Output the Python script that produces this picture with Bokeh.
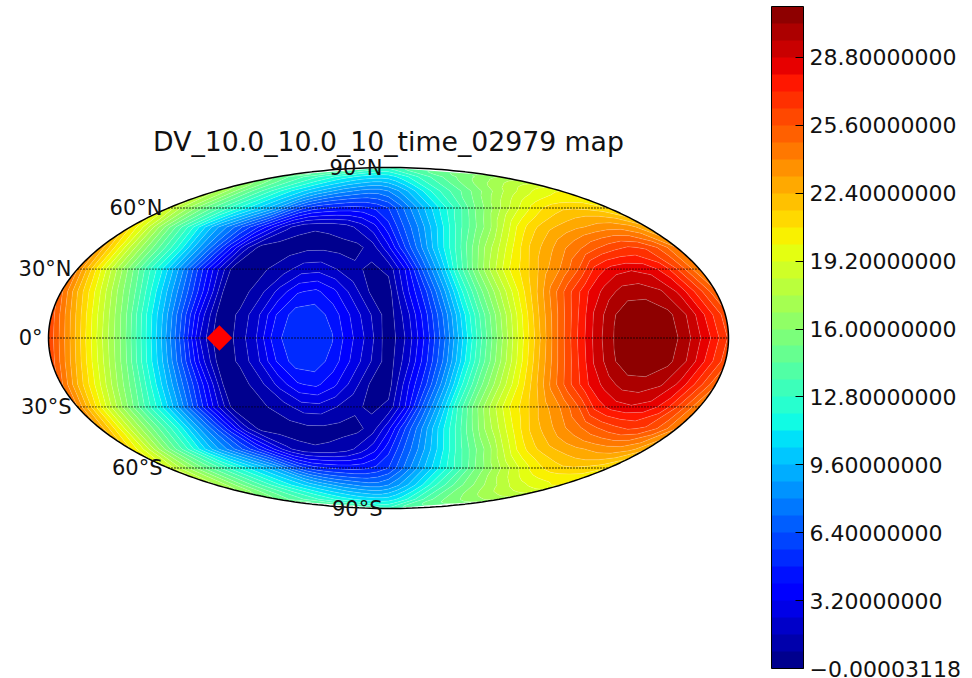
import numpy as np
from bokeh.plotting import figure
from bokeh.embed import file_html
from bokeh.resources import INLINE
from bokeh.core.properties import value
from bokeh.models import ColorBar, LinearColorMapper, FixedTicker

title_text = "DV_10.0_10.0_10_time_02979 map"
lons = list(range(-180, 181, 10))
lats = list(range(-90, 91, 10))
row_90n = [13.0]*37
row_80n = [15.0,14.7,14.3,14.0,13.7,13.3,13.0,12.7,12.4,12.1,11.8,11.5,11.3,11.1,10.9,10.8,10.7,10.7,10.8,11.1,11.5,11.9,12.4,12.9,13.3,13.7,14.1,14.5,14.9,15.2,15.5,15.8,16.0,16.3,16.5,16.7,16.8]
row_70n = [17.6,16.9,16.0,15.0,14.2,13.4,12.6,11.8,11.1,10.5,9.9,9.4,8.9,8.4,8.1,7.8,7.6,7.6,8.0,8.7,9.6,10.6,11.6,12.5,13.3,14.0,14.7,15.5,16.2,16.9,17.6,18.2,18.7,19.2,19.6,19.9,20.0]
row_60n = [19.0,17.6,16.3,15.0,13.9,12.7,11.7,10.7,9.7,8.6,7.0,5.8,5.1,4.8,4.6,4.5,4.6,5.0,5.6,6.9,8.3,9.7,11.0,12.3,13.6,15.1,16.2,17.4,18.5,19.5,20.4,21.0,21.4,21.5,21.4,21.2,20.8]
row_50n = [20.8,19.0,16.8,14.7,12.8,10.8,9.0,7.6,6.1,4.7,3.2,1.8,1.0,0.85,0.9,1.2,1.9,2.9,4.5,6.3,7.9,9.7,11.5,13.4,15.0,16.5,18.4,20.1,21.3,22.1,22.6,23.0,23.3,23.6,23.7,23.4,22.6]
row_40n = [22.9,20.5,18.0,15.8,13.7,11.6,9.2,7.0,4.5,2.0,0.5,0.4,0.5,0.6,0.6,0.5,0.5,1.2,3.0,5.5,7.8,10.2,12.4,14.7,16.8,18.6,20.4,21.9,22.9,23.9,24.7,25.5,26.1,26.5,26.3,25.4,24.0]
row_30n = [24.0,21.0,18.3,15.8,13.3,11.0,8.4,5.5,2.8,0.5,0.5,0.8,1.3,2.0,2.1,1.6,1.0,0.6,1.0,3.3,6.6,9.5,12.8,15.6,18.0,20.0,21.4,22.9,24.1,25.6,27.5,28.4,28.7,28.5,27.6,25.9,24.0]
row_20n = [25.0,22.1,19.6,17.0,14.6,11.8,9.1,6.3,3.4,0.5,0.5,1.4,2.7,3.9,4.2,3.4,2.1,0.7,0.4,2.9,5.3,8.4,11.8,14.8,17.3,19.7,22.0,24.3,26.3,28.0,29.2,30.0,30.1,29.7,28.6,26.9,25.0]
row_10n = [26.0,23.2,20.4,17.8,15.2,12.2,9.4,6.2,2.8,0.3,0.9,2.2,4.0,5.2,5.3,4.5,3.1,1.7,0.3,2.1,4.6,7.5,10.9,14.0,16.8,19.6,22.3,24.7,26.9,28.9,30.3,31.0,31.0,30.6,29.5,27.8,26.0]
row_00 = [26.3,23.6,20.7,18.0,15.5,12.5,9.5,6.2,2.4,0.1,1.0,2.4,4.5,5.4,5.5,4.9,3.4,2.0,0.2,1.8,4.3,7.2,10.6,13.8,16.7,19.6,22.3,24.9,27.2,29.2,30.5,31.1,31.2,30.8,29.6,28.1,26.3]
# the lower half of the map reads as the mirror of the upper half, apart from the two rows nearest the pole
row_10s = row_10n
row_20s = row_20n
row_30s = row_30n
row_40s = row_40n
row_50s = row_50n
row_60s = row_60n
row_70s = [17.6,16.9,16.0,15.0,14.2,13.4,12.6,11.8,11.1,10.5,9.9,9.4,8.9,8.4,8.1,7.8,7.6,7.6,8.0,8.7,9.6,10.6,11.7,12.8,13.7,14.6,15.4,16.1,16.8,17.4,18.0,18.6,19.0,19.4,19.7,20.0,20.1]
row_80s = [15.0,14.7,14.3,14.0,13.7,13.3,13.0,12.7,12.4,12.1,11.8,11.5,11.3,11.1,10.9,10.8,10.7,10.7,10.8,11.1,11.5,12.0,12.6,13.2,13.8,14.3,14.8,15.2,15.5,15.8,16.1,16.3,16.5,16.7,16.9,17.0,17.1]
row_90s = [13.0]*37
marker_lon = [-89.5]
marker_lat = [0.0]
grid_lats = [-60,-30,0,30,60]
label_lats = [90,60,30,0,-30,-60,-90]
label_text = ["90°N","60°N","30°N","0°","30°S","60°S","90°S"]
bar_low = -0.00003118
bar_high = 31.2
bar_ticks = [-0.00003118,3.2,6.4,9.6,12.8,16.0,19.2,22.4,25.6,28.8]
bar_labels = ["\u22120.00003118","3.20000000","6.40000000","9.60000000","12.80000000","16.00000000","19.20000000","22.40000000","25.60000000","28.80000000"]

def theta_of(lat_deg):
    phi = np.radians(np.asarray(lat_deg, float))
    th = phi.copy()
    for _ in range(60):
        d = 2*th + np.sin(2*th) - np.pi*np.sin(phi)
        dd = 2 + 2*np.cos(2*th)
        th = np.where(np.abs(dd) > 1e-9, th - d/np.maximum(dd, 1e-3), th)
    return np.clip(th, -np.pi/2, np.pi/2)

def moll(lon, lat):
    th = theta_of(lat)
    return 2*np.sqrt(2)/np.pi*np.radians(lon)*np.cos(th), np.sqrt(2)*np.sin(th)

def jet(t):
    r = np.interp(t,[0,.35,.66,.89,1],[0,0,1,1,.5])
    g = np.interp(t,[0,.125,.375,.64,.91,1],[0,0,1,1,0,0])
    b = np.interp(t,[0,.11,.34,.65,1],[.5,1,1,0,0])
    return "#%02x%02x%02x" % (int(r*255),int(g*255),int(b*255))

Z0 = np.array([row_90s,row_80s,row_70s,row_60s,row_50s,row_40s,row_30s,row_20s,row_10s,row_00,
               row_10n,row_20n,row_30n,row_40n,row_50n,row_60n,row_70n,row_80n,row_90n])
# grid: extra column each side and extra row beyond each pole, all hidden by the outside mask
ext_lons = np.array([-200.0]+lons+[200.0])
Z = np.column_stack([Z0[:,0], Z0, Z0[:,-1]])
LON, LAT = np.meshgrid(ext_lons, lats)
X, Y = moll(LON, LAT)
X = np.vstack([X[1]*1.3, X, X[-2]*1.3])
Y = np.vstack([np.full(X.shape[1], -1.7), Y, np.full(X.shape[1], 1.7)])
Z = np.vstack([Z[1], Z, Z[-2]])

levels = np.linspace(bar_low, bar_high, 40)
palette = [jet((i+.5)/39) for i in range(39)]

W, H = 972, 678
cx, cy = 388.0, 337.5
kx = 680/(4*np.sqrt(2)); ky = 341/(2*np.sqrt(2))
p = figure(width=W, height=H, output_backend="svg", toolbar_location=None, min_border=0,
           x_range=(-cx/kx, (W-cx)/kx), y_range=(-(H-cy)/ky, cy/ky))
p.axis.visible = False
p.grid.visible = False
p.outline_line_color = None
p.background_fill_color = "white"

p.contour(X, Y, Z, levels, fill_color=palette, line_color="white", line_alpha=0.3, line_width=0.6)

# white mask outside the map
t = np.linspace(0, 2*np.pi, 361)
ex = 2*np.sqrt(2)*np.cos(t); ey = np.sqrt(2)*np.sin(t)
bx = [-4,4,4,-4]; by = [-3,-3,3,3]
p.multi_polygons(xs=[[[bx, list(ex[::-1])]]], ys=[[[by, list(ey[::-1])]]], fill_color="white", line_color=None)

for la in grid_lats:
    xl, yl = moll(np.array([-180.0,180.0]), np.array([la,la],float))
    p.line(xl, yl, line_color="black", line_width=1.3, line_dash="1 2")
p.line(ex, ey, line_color="black", line_width=1.5)

mx, my = moll(np.array(marker_lon), np.array(marker_lat))
p.scatter(mx, my, marker="square", size=18, angle=np.pi/4, fill_color="#ff0000", line_color=None)

lx, ly = moll(np.full(len(label_lats), -180.0), np.array(label_lats, float))
p.text(lx, ly, text=label_text, text_font=value("DejaVu Sans"), text_font_size="21px",
       text_align="right", text_baseline="middle", x_offset=-6, text_color="#111111")
p.text([0.0], [197.0/ky], text=[title_text], text_font=value("DejaVu Sans"), text_font_size="26.7px",
       text_align="center", text_baseline="alphabetic", text_color="#111111")

mapper = LinearColorMapper(palette=palette, low=bar_low, high=bar_high)
cb = ColorBar(color_mapper=mapper, width=32, height=662, location=(771, 10), ticker=FixedTicker(ticks=bar_ticks),
              major_label_overrides=dict(zip(bar_ticks, bar_labels)), major_label_text_font="DejaVu Sans",
              major_label_text_font_size="22px", major_label_text_color="#111111",
              major_tick_in=8, major_tick_out=0, major_tick_line_color="black", minor_tick_line_color=None,
              bar_line_color="black", bar_line_width=1, label_standoff=6, padding=0,
              background_fill_alpha=0, border_line_color=None)
p.add_layout(cb)

open("out.html", "w").write(file_html(p, INLINE))
